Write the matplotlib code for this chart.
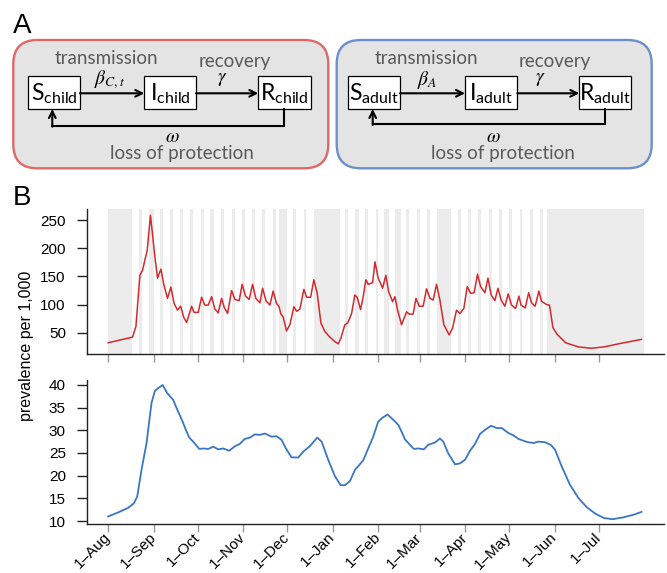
import matplotlib
matplotlib.use("Agg")
import matplotlib.pyplot as plt
from matplotlib.patches import FancyBboxPatch, Rectangle

# x axis: days since 1 Aug
month_days = [0, 31, 61, 92, 122, 153, 184, 212, 243, 273, 304, 334]
month_labels = ["1\u2013Aug", "1\u2013Sep", "1\u2013Oct", "1\u2013Nov", "1\u2013Dec", "1\u2013Jan",
                "1\u2013Feb", "1\u2013Mar", "1\u2013Apr", "1\u2013May", "1\u2013Jun", "1\u2013Jul"]

# children prevalence per 1,000 (vertices)
child_day = [0, 16.6, 18.9, 21.6, 23.4, 26.6, 28.8, 31.8, 33.6, 35.9, 37.9, 40.4, 42.7, 44.9,
             47.2, 49.3, 51.5, 53.4, 56.8, 58.5, 61.3, 63.6, 65.8, 68.1, 70.4, 72.6, 74.9,
             77.2, 79, 81.3, 84, 86.3, 89.2, 91.2, 93.5, 96, 98.3, 100.5, 103.3, 105.1, 107.4,
             110.1, 112.3, 114.6, 116.2, 117.6, 119.1, 121.4, 123.7, 126.4, 128.3, 130.5,
             133.2, 135.1, 137.8, 140, 142.3, 144.8, 147.5, 150.9, 154.3, 156.6, 158.4, 161.1,
             163, 165.7, 167.9, 169.5, 171.8, 173.6, 175.4, 177, 180, 181.6, 183.8, 186.8,
             189, 190.9, 193.6, 195.2, 197, 199.7, 203.1, 204.9, 207.6, 209.5, 211.7, 214.4,
             216.7, 219, 221.2, 223.5, 225.8, 228.5, 232.1, 234.4, 237.1, 239.4, 242.1, 244.4,
             246.7, 249.1, 251.4, 253.5, 256.4, 258.5, 260.7, 263.2, 265.3, 267.5, 270, 272.3,
             274.6, 277.3, 279.6, 281, 283.9, 286.2, 288.2, 290.6, 293.2, 294.9, 298.4, 300.4,
             302.7, 305.6, 311.4, 320.1, 328.8, 337.5, 349.1, 363]
child_prev = [32, 42, 61, 152, 161, 197, 259, 185, 147, 163, 135, 111, 131, 102,
              90, 97, 77, 68, 97, 86, 86, 113, 99, 99, 114, 92, 85,
              111, 95, 84, 125, 109, 107, 136, 115, 109, 136, 111, 103, 129, 107,
              99, 124, 102, 97, 83, 78, 53, 64, 96, 88, 92,
              127, 113, 113, 144, 120, 67, 52, 42, 34, 30, 40, 64,
              67, 84, 117, 113, 91, 114, 144, 136, 139, 176, 147, 129,
              152, 123, 105, 114, 90, 64, 87, 83, 83, 111, 97, 97,
              128, 111, 108, 136, 108, 64, 46, 58, 90, 84, 93, 132,
              120, 121, 154, 132, 121, 147, 117, 107, 129, 108, 97, 119,
              99, 93, 115, 99, 94, 121, 103, 97, 124, 106, 100, 99,
              59, 47, 32, 24.6, 22.2, 24.6, 31, 38]

# adult prevalence per 1,000
adult_day = [0, 7.9, 13.6, 17.5, 19.8, 22.7, 26.1, 29.5, 31.8, 34.1, 37.1, 40.2, 44.3, 46.6,
             50.7, 52.9, 55.2, 57.9, 62, 64.8, 68.2, 71.6, 74.9, 78.3, 82.4, 86.3, 89.6, 93,
             96.5, 99.8, 103.3, 106.7, 111.2, 114.6, 118, 121, 124.8, 129.4, 132.8, 137.3,
             142.3, 145.3, 149.8, 154.3, 158.2, 161.1, 164.6, 168, 170.9, 173.6, 177, 180.4,
             183.8, 186.8, 190.2, 194.1, 197.5, 199.7, 202, 205.4, 208.1, 211.1, 214.9, 217.9,
             222.4, 225.8, 228.1, 231.5, 236.1, 239.4, 242.9, 246.3, 249.7, 253.1, 256.5,
             260.6, 264.5, 267.9, 272.4, 275.8, 279.3, 285.3, 289.7, 292.6, 297, 301.3, 304.2,
             308.5, 314.3, 320.1, 325.9, 331.7, 337.5, 343.3, 350.5, 357.8, 363]
adult_prev = [11, 12.05, 12.9, 13.9, 15.4, 21.3, 27.1, 36, 38.7, 39.3, 40, 38.2, 36.7, 34.9,
              31.9, 30.1, 28.4, 27.5, 25.9, 26, 25.9, 26.4, 25.8, 26, 25.5, 26.5, 27, 28.1,
              28.4, 29.1, 29, 29.3, 28.6, 28.7, 27.9, 26, 24.05, 24, 25.3, 26.5,
              28.4, 27.5, 23.5, 19.9, 17.9, 17.9, 18.8, 21.3, 22.35, 23.4, 26, 28.6,
              31.9, 32.8, 33.5, 32.3, 31.2, 29.7, 28, 26.8, 25.9, 26, 25.8, 26.8,
              27.3, 28.2, 27.5, 24.9, 22.5, 22.7, 23.5, 25.5, 27, 29.2, 30.1,
              31, 30.5, 30.5, 29.4, 28.9, 28.1, 27.4, 27.2, 27.5, 27.4, 26.8, 25.7,
              22.2, 18, 15.05, 13, 11.6, 10.65, 10.4, 10.8, 11.4, 12]

# school closures (weekends every 7 days from day 21, plus holidays)
weekend_first = 21
weekend_count = 40
holiday_start = [0, 28, 69, 116, 140, 168, 188, 195, 224, 299]
holiday_end = [16.5, 31, 72, 121.5, 157.5, 171, 191, 199.5, 233.3, 365]

RED = "#d42a2e"
BLUE = "#3a76c4"
SHADE = "#ececec"

W, H = 667, 573
fig = plt.figure(figsize=(W / 100, H / 100), dpi=100)
plt.rcParams['font.family'] = ['Liberation Sans', 'DejaVu Sans']

# ---------- panel A (drawn in pixel coordinates) ----------
ov = fig.add_axes([0, 0, 1, 1])
ov.set_xlim(0, W)
ov.set_ylim(H, 0)
ov.set_axis_off()

ov.text(13, 33, "A", fontsize=20, ha="left", va="baseline")
ov.text(13, 205, "B", fontsize=20, ha="left", va="baseline")
ov.text(27, 346, "prevalence per 1,000", fontsize=11.5, rotation=90, ha="center", va="center")

def draw_model(x0, x1, edge, sub, beta, boxes, loop_x, loop_y, txt):
    ov.add_patch(FancyBboxPatch((x0, 40), x1 - x0, 128.3,
                                boxstyle="round,pad=0,rounding_size=24",
                                fc="#e4e4e4", ec=edge, lw=1.7))
    by0, by1 = 76, 109
    ym = (by0 + by1) / 2
    for (bx0, bx1), letter in zip(boxes, "SIR"):
        ov.add_patch(Rectangle((bx0, by0), bx1 - bx0, by1 - by0, fc="white", ec="black", lw=0.9))
        ov.text((bx0 + bx1) / 2, ym + 1, letter + r"$_{\mathregular{" + sub + "}}$",
                family="Lato", fontsize=16.5, ha="center", va="center")
    arrow = dict(arrowstyle="->", lw=1.5, color="black", mutation_scale=12,
                 shrinkA=0, shrinkB=0)
    ov.annotate("", xy=(boxes[1][0], 93.3), xytext=(boxes[0][1], 93.3), arrowprops=arrow)
    ov.annotate("", xy=(boxes[2][0], 93.3), xytext=(boxes[1][1], 93.3), arrowprops=arrow)
    ov.plot([loop_x[1], loop_x[1], loop_x[0]], [by1, loop_y, loop_y], color="black", lw=1.5,
            solid_joinstyle="miter")
    ov.annotate("", xy=(loop_x[0], by1), xytext=(loop_x[0], loop_y + 0.7), arrowprops=arrow)
    ov.text(txt[0], 59, "transmission", family="Lato", fontsize=13.5, color="#5a5a5a",
            ha="center", va="center")
    ov.text(txt[1], 61, "recovery", family="Lato", fontsize=13.5, color="#5a5a5a",
            ha="center", va="center")
    ov.text(txt[2], 153, "loss of protection", family="Lato", fontsize=13.5, color="#5a5a5a",
            ha="center", va="center")
    ov.text(txt[3], 80, beta, fontsize=14, math_fontfamily="stix", ha="center", va="center")
    ov.text(txt[4], 80, r"$\gamma$", fontsize=14, math_fontfamily="stix", ha="center", va="center")
    ov.text(txt[5], 137, r"$\omega$", fontsize=14, math_fontfamily="stix", ha="center", va="center")

draw_model(13.3, 328.3, "#e06868", "child", r"$\beta_{C,t}$",
           [(28.3, 80), (144.3, 196), (258.3, 311)], (52.3, 284.3), 126,
           [106.7, 235, 181.7, 110, 222.7, 172.3])
draw_model(336.7, 651.7, "#6b90cc", "adult", r"$\beta_{A}$",
           [(348.3, 400), (465, 517.3), (579.3, 631)], (372.7, 605.3), 124.3,
           [426.7, 555, 502.7, 426.7, 540.7, 493.3])

# ---------- panel B ----------
left = 86.7 / W
width = (664.4 - 86.7) / W
ax1 = fig.add_axes([left, (H - 353.7) / H, width, (353.7 - 209.3) / H])
ax2 = fig.add_axes([left, (H - 524) / H, width, (524 - 380) / H])

for k in range(weekend_count):
    d = weekend_first + 7 * k
    ax1.axvspan(d, d + 2, color=SHADE, lw=0, zorder=0)
for s, e in zip(holiday_start, holiday_end):
    ax1.axvspan(s, e, color=SHADE, lw=0, zorder=0)

ax1.plot(child_day, child_prev, color=RED, lw=1.1, zorder=2)
ax2.plot(adult_day, adult_prev, color=BLUE, lw=1.3, zorder=2)

ax1.set_ylim(12.5, 269.5)
ax1.set_yticks([50, 100, 150, 200, 250])
ax2.set_ylim(9.34, 41.1)
ax2.set_yticks([10, 15, 20, 25, 30, 35, 40])

for ax in (ax1, ax2):
    ax.set_xlim(-14.6, 378.6)
    ax.set_xticks(month_days)
    ax.spines["top"].set_visible(False)
    ax.spines["right"].set_visible(False)
    for sp in ("left", "bottom"):
        ax.spines[sp].set_linewidth(1.0)
        ax.spines[sp].set_color("#222222")
    ax.tick_params(axis="y", length=7, width=1.0, pad=8, labelsize=11, color="#222222")
    ax.tick_params(axis="x", length=6, width=1.0, color="#999999", labelsize=11, pad=2)
    ax.set_facecolor("none")

ax1.set_xticklabels([])
ax2.set_xticklabels(month_labels, rotation=45, ha="right", va="center",
                    rotation_mode="anchor")

fig.savefig("out.png", dpi=100)
